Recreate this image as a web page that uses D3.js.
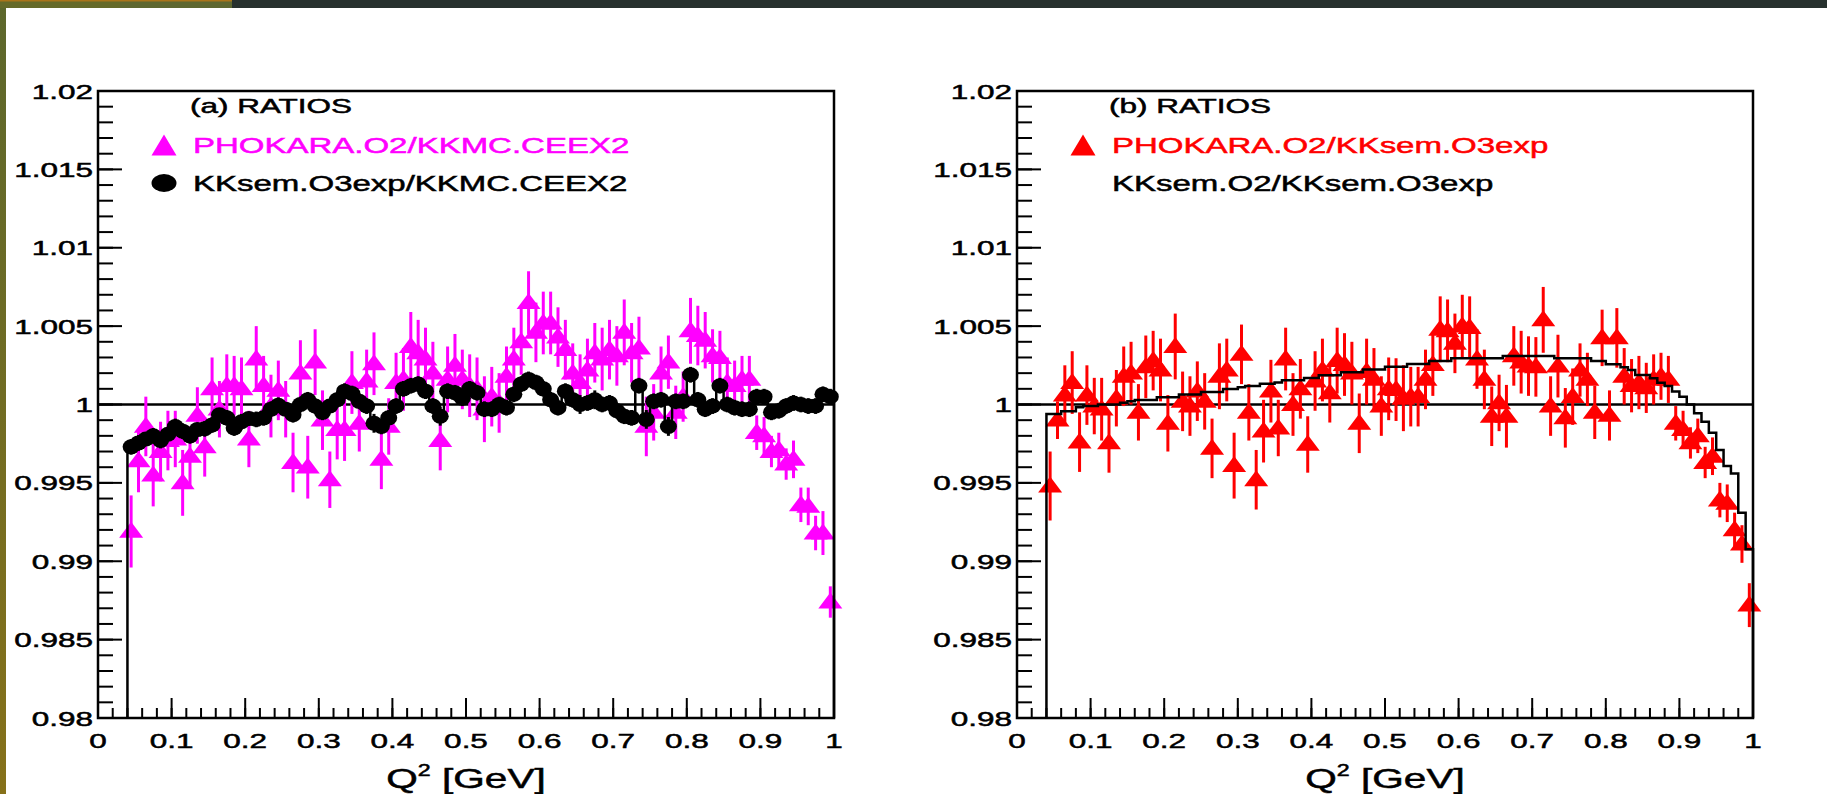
<!DOCTYPE html>
<html>
<head>
<meta charset="utf-8">
<script src="https://d3js.org/d3.v7.min.js"></script>
<style>
  body { margin: 0; background: #fff; }
  svg text { font-family: "Liberation Sans", Arial, Helvetica, sans-serif; }
</style>
</head>
<body>
<div id="chart"></div>
<script>

// Q^2 bin centres, bins 0.01 wide
var q2 = [0.045,0.055,0.065,0.075,0.085,0.095,0.105,0.115,0.125,0.135,
          0.145,0.155,0.165,0.175,0.185,0.195,0.205,0.215,0.225,0.235,
          0.245,0.255,0.265,0.275,0.285,0.295,0.305,0.315,0.325,0.335,
          0.345,0.355,0.365,0.375,0.385,0.395,0.405,0.415,0.425,0.435,
          0.445,0.455,0.465,0.475,0.485,0.495,0.505,0.515,0.525,0.535,
          0.545,0.555,0.565,0.575,0.585,0.595,0.605,0.615,0.625,0.635,
          0.645,0.655,0.665,0.675,0.685,0.695,0.705,0.715,0.725,0.735,
          0.745,0.755,0.765,0.775,0.785,0.795,0.805,0.815,0.825,0.835,
          0.845,0.855,0.865,0.875,0.885,0.895,0.905,0.915,0.925,0.935,
          0.945,0.955,0.965,0.975,0.985,0.995];

// panel (a): PHOKARA.O2 / KKMC.CEEX2
var phokaraCeex = [0.9919,0.9964,0.9986,0.9955,0.9970,0.9977,0.9978,0.9950,0.9967,0.9993,
                   0.9973,1.0010,0.9997,1.0012,1.0012,1.0010,0.9978,1.0029,1.0012,0.9999,
                   1.0009,0.9997,0.9963,1.0020,0.9960,1.0027,0.9990,0.9952,0.9984,0.9984,
                   1.0014,0.9988,1.0015,1.0026,0.9965,0.9986,1.0014,1.0016,1.0037,1.0033,
                   1.0029,1.0020,0.9977,1.0016,1.0025,1.0016,1.0012,1.0010,0.9997,1.0005,
                   1.0001,1.0018,1.0029,1.0040,1.0065,1.0046,1.0052,1.0052,1.0043,1.0035,
                   1.0020,1.0014,1.0022,1.0033,1.0029,1.0035,1.0031,1.0046,1.0033,1.0036,
                   0.9986,0.9995,1.0020,1.0027,0.9995,1.0005,1.0047,1.0044,1.0041,1.0031,
                   1.0030,1.0014,1.0012,1.0016,1.0016,0.9982,0.9980,0.9970,0.9971,0.9962,
                   0.9965,0.9936,0.9935,0.9918,0.9918,0.9874];
var phokaraCeexErr = [0.0023,0.0020,0.0019,0.0020,0.0019,0.0019,0.0018,0.0021,0.0019,0.0018,
                      0.0019,0.0020,0.0018,0.0020,0.0019,0.0020,0.0018,0.0021,0.0019,0.0020,
                      0.0019,0.0018,0.0019,0.0021,0.0020,0.0021,0.0019,0.0018,0.0019,0.0020,
                      0.0020,0.0018,0.0020,0.0020,0.0019,0.0018,0.0019,0.0020,0.0022,0.0021,
                      0.0020,0.0020,0.0019,0.0021,0.0020,0.0019,0.0020,0.0020,0.0021,0.0019,
                      0.0019,0.0019,0.0020,0.0021,0.0020,0.0019,0.0020,0.0020,0.0019,0.0019,
                      0.0019,0.0018,0.0020,0.0019,0.0020,0.0019,0.0019,0.0021,0.0019,0.0020,
                      0.0019,0.0018,0.0017,0.0017,0.0017,0.0016,0.0021,0.0019,0.0018,0.0017,
                      0.0017,0.0016,0.0016,0.0015,0.0015,0.0011,0.0012,0.0010,0.0011,0.0010,
                      0.0012,0.0011,0.0012,0.0011,0.0014,0.0010];

// panel (a): KKsem.O3exp / KKMC.CEEX2
var kksemCeex = [0.9973,0.99755,0.9978,0.9980,0.9977,0.9981,0.9986,0.9983,0.9980,0.9984,
                 0.99845,0.9987,0.99935,0.99915,0.9985,0.9989,0.9991,0.99905,0.99915,0.9997,
                 0.99995,0.9997,0.99935,1.0000,1.0003,0.9999,0.9995,0.9999,1.0003,1.00085,
                 1.0007,1.0002,0.9999,0.9988,0.9986,0.99915,0.9999,1.0010,1.0012,1.0013,
                 1.00085,0.9999,0.99925,1.00085,1.00075,1.0004,1.0010,1.00075,0.9997,0.9997,
                 1.0000,0.9998,1.00065,1.0013,1.0016,1.0014,1.0010,1.0003,0.9998,1.00085,
                 1.0003,1.0000,1.0001,1.0003,1.0000,1.0001,0.9996,0.99925,0.99915,1.0012,
                 0.99905,1.0002,1.0003,0.9986,1.0002,1.0002,1.0019,1.0003,0.9997,0.9999,
                 1.0012,1.0000,0.9998,0.9997,0.9997,1.0005,1.0005,0.9995,0.9996,0.9999,
                 1.0001,1.0000,0.9999,0.9999,1.00065,1.0005];
var kksemCeexErr = [0.0005,0.0005,0.0004,0.0005,0.0005,0.0004,0.0005,0.0005,0.0005,0.0004,
                    0.0005,0.0005,0.0004,0.0005,0.0005,0.0005,0.0004,0.0005,0.0005,0.0005,
                    0.0005,0.0004,0.0005,0.0005,0.0005,0.0005,0.0005,0.0004,0.0005,0.0005,
                    0.0005,0.0005,0.0005,0.0006,0.0005,0.0005,0.0005,0.0005,0.0005,0.0005,
                    0.0005,0.0005,0.0006,0.0005,0.0005,0.0005,0.0005,0.0005,0.0005,0.0005,
                    0.0005,0.0005,0.0005,0.0005,0.0005,0.0005,0.0005,0.0005,0.0005,0.0005,
                    0.0005,0.0006,0.0005,0.0006,0.0005,0.0005,0.0005,0.0005,0.0005,0.0005,
                    0.0006,0.0005,0.0005,0.0006,0.0005,0.0005,0.0005,0.0005,0.0005,0.0005,
                    0.0005,0.0005,0.0005,0.0005,0.0005,0.0005,0.0005,0.0005,0.0005,0.0005,
                    0.0005,0.0005,0.0005,0.0005,0.0005,0.0005];

// panel (b): PHOKARA.O2 / KKsem.O3exp
var phokaraKksem = [0.9948,0.9990,1.0006,1.0014,0.9976,1.0006,0.9999,0.9997,0.99755,1.0004,
                    1.0018,1.0020,0.9995,1.0024,1.0028,1.0022,0.9988,1.0037,1.0002,0.9999,
                    1.00085,1.0002,0.9972,1.0018,1.0022,0.9961,1.0032,0.9995,0.9952,0.9983,
                    1.00085,0.9985,1.0029,1.0000,1.0010,0.99745,1.0015,1.0022,1.00075,1.0028,
                    1.00255,1.0020,0.9988,1.0021,1.0016,0.9999,1.0010,1.00095,1.0004,1.0005,
                    1.0005,1.0016,1.00255,1.0048,1.0047,1.0039,1.0050,1.0049,1.0029,1.0016,
                    0.99925,1.0001,0.99925,1.0031,1.0027,1.00245,1.0024,1.0054,0.9999,1.00245,
                    0.99915,1.0005,1.0022,1.0016,0.9995,1.00425,0.9993,1.00425,1.0018,1.0012,
                    1.0014,1.00106,1.0016,1.0018,1.0016,0.9988,0.9984,0.99755,0.9980,0.9963,
                    0.9967,0.9939,0.9937,0.9920,0.9911,0.9872];
var phokaraKksemErr = [0.0022,0.0012,0.0019,0.0020,0.0019,0.0019,0.0018,0.0020,0.0019,0.0018,
                       0.0019,0.0020,0.0018,0.0020,0.0019,0.0020,0.0018,0.0021,0.0019,0.0019,
                       0.0019,0.0018,0.0019,0.0021,0.0020,0.0021,0.0019,0.0018,0.0019,0.0020,
                       0.0020,0.0018,0.0020,0.0020,0.0019,0.0018,0.0019,0.0020,0.0019,0.0021,
                       0.0020,0.0020,0.0019,0.0021,0.0020,0.0019,0.0020,0.0020,0.0021,0.0019,
                       0.0019,0.0019,0.0020,0.0021,0.0020,0.0019,0.0020,0.0020,0.0019,0.0019,
                       0.0019,0.0018,0.0020,0.0019,0.0020,0.0019,0.0019,0.0021,0.0019,0.0020,
                       0.0019,0.0018,0.0017,0.0017,0.0017,0.0018,0.0016,0.0019,0.0018,0.0017,
                       0.0017,0.0016,0.0016,0.0015,0.0015,0.0011,0.0012,0.0010,0.0011,0.0010,
                       0.0012,0.0011,0.0012,0.0011,0.0012,0.0014];

// panel (b): KKsem.O2 / KKsem.O3exp (histogram)
var kksemO2O3 = [0.99940,0.99940,0.99957,0.99957,0.99982,0.99990,0.99990,1.00000,1.00000,1.00000,
                 1.00011,1.00020,1.00029,1.00029,1.00029,1.00046,1.00046,1.00046,1.00063,1.00063,
                 1.00063,1.00080,1.00080,1.00080,1.00099,1.00099,1.00110,1.00118,1.00118,1.00133,
                 1.00133,1.00140,1.00154,1.00154,1.00154,1.00169,1.00169,1.00186,1.00186,1.00186,
                 1.00205,1.00205,1.00205,1.00224,1.00224,1.00224,1.00241,1.00241,1.00241,1.00258,
                 1.00258,1.00258,1.00277,1.00277,1.00277,1.00295,1.00295,1.00295,1.00295,1.00295,
                 1.00295,1.00295,1.00310,1.00310,1.00310,1.00310,1.00310,1.00310,1.00310,1.00295,
                 1.00295,1.00295,1.00295,1.00295,1.00277,1.00277,1.00256,1.00256,1.00237,1.00220,
                 1.00188,1.00188,1.00167,1.00139,1.00118,1.00083,1.00050,1.00000,0.99944,0.99890,
                 0.99820,0.99710,0.99608,0.99560,0.99310,0.99076];

var yTicks = [0.98, 0.985, 0.99, 0.995, 1, 1.005, 1.01, 1.015, 1.02];
var yTickLabels = ["0.98", "0.985", "0.99", "0.995", "1", "1.005", "1.01", "1.015", "1.02"];
var xTicks = [0, 0.1, 0.2, 0.3, 0.4, 0.5, 0.6, 0.7, 0.8, 0.9, 1];
var xTickLabels = ["0", "0.1", "0.2", "0.3", "0.4", "0.5", "0.6", "0.7", "0.8", "0.9", "1"];

var width = 1827, height = 794;
var plotTop = 91, plotBottom = 718;
var binHalf = 0.005;
var SX = 1.5;   // the picture is stretched sideways, text too

var svg = d3.select("#chart").append("svg")
    .attr("width", width)
    .attr("height", height);

// slide decoration: top band and left strip
var grad = svg.append("defs").append("linearGradient")
    .attr("id", "side").attr("x1", 0).attr("y1", 0).attr("x2", 0).attr("y2", 1);
grad.append("stop").attr("offset", "0%").attr("stop-color", "#5c672c");
grad.append("stop").attr("offset", "100%").attr("stop-color", "#86711a");
svg.append("rect").attr("x", 0).attr("y", 0).attr("width", 6).attr("height", height).attr("fill", "url(#side)");
svg.append("rect").attr("x", 0).attr("y", 0).attr("width", 232).attr("height", 8).attr("fill", "#656a29");
svg.append("rect").attr("x", 120).attr("y", 0).attr("width", 112).attr("height", 8).attr("fill", "#5d6730");
svg.append("rect").attr("x", 232).attr("y", 0).attr("width", width - 232).attr("height", 8).attr("fill", "#27312e");
svg.append("rect").attr("x", 0).attr("y", 0).attr("width", 232).attr("height", 1.5).attr("fill", "#a8741a");

function label(g, x, y, str, size, anchor, color, sx) {
  return g.append("text")
      .attr("transform", "translate(" + x + "," + y + ") scale(" + (sx || SX) + ",1)")
      .attr("text-anchor", anchor || "start")
      .attr("font-size", size)
      .attr("fill", color || "#000")
      .attr("stroke", color || "#000")
      .attr("stroke-width", 0.5)
      .text(str);
}

function triPath(w, h) {
  return "M0," + (-h * 0.6) + "L" + (w / 2) + "," + (h * 0.4) + "L" + (-w / 2) + "," + (h * 0.4) + "Z";
}

function drawPoints(g, x, y, vals, errs, color, shape) {
  var data = vals.map(function(v, i) { return {q: q2[i], v: v, e: errs[i]}; });
  var s = g.append("g");
  s.selectAll("line.ey").data(data).enter().append("line")
      .attr("x1", function(d) { return x(d.q); })
      .attr("x2", function(d) { return x(d.q); })
      .attr("y1", function(d) { return y(d.v - d.e); })
      .attr("y2", function(d) { return y(d.v + d.e); })
      .attr("stroke", color).attr("stroke-width", 3);
  s.selectAll("line.ex").data(data).enter().append("line")
      .attr("x1", function(d) { return x(d.q - binHalf); })
      .attr("x2", function(d) { return x(d.q + binHalf); })
      .attr("y1", function(d) { return y(d.v); })
      .attr("y2", function(d) { return y(d.v); })
      .attr("stroke", color).attr("stroke-width", 3);
  if (shape == "tri") {
    s.selectAll("path.m").data(data).enter().append("path")
        .attr("d", triPath(24, 16))
        .attr("transform", function(d) { return "translate(" + x(d.q) + "," + y(d.v) + ")"; })
        .attr("fill", color);
  } else {
    s.selectAll("ellipse.m").data(data).enter().append("ellipse")
        .attr("cx", function(d) { return x(d.q); })
        .attr("cy", function(d) { return y(d.v); })
        .attr("rx", 8.5).attr("ry", 7.5)
        .attr("fill", color);
  }
}

function histPath(x, y, vals) {
  var d = "M" + x(q2[0] - binHalf) + "," + y(0.98);
  vals.forEach(function(v, i) {
    d += "L" + x(q2[i] - binHalf) + "," + y(v) + "L" + x(q2[i] + binHalf) + "," + y(v);
  });
  return d + "L" + x(q2[q2.length - 1] + binHalf) + "," + y(0.98);
}

function drawPanel(p) {
  var x = d3.scaleLinear().domain([0, 1]).range([p.left, p.right]);
  var y = d3.scaleLinear().domain([0.98, 1.02]).range([plotBottom, plotTop]);
  var g = svg.append("g");

  // line at ratio 1
  g.append("line")
      .attr("x1", x(0)).attr("x2", x(1))
      .attr("y1", y(1)).attr("y2", y(1))
      .attr("stroke", "#000").attr("stroke-width", 2.5);

  // ticks, drawn inside the frame
  g.selectAll("line.ymin").data(y.ticks(40)).enter().append("line")
      .attr("x1", x(0)).attr("x2", x(0) + 15)
      .attr("y1", y).attr("y2", y)
      .attr("stroke", "#000").attr("stroke-width", 2);
  g.selectAll("line.ymaj").data(yTicks).enter().append("line")
      .attr("x1", x(0)).attr("x2", x(0) + 24)
      .attr("y1", y).attr("y2", y)
      .attr("stroke", "#000").attr("stroke-width", 2);
  g.selectAll("line.xmin").data(x.ticks(50)).enter().append("line")
      .attr("x1", x).attr("x2", x)
      .attr("y1", plotBottom).attr("y2", plotBottom - 10)
      .attr("stroke", "#000").attr("stroke-width", 2);
  g.selectAll("line.xmaj").data(xTicks).enter().append("line")
      .attr("x1", x).attr("x2", x)
      .attr("y1", plotBottom).attr("y2", plotBottom - 20)
      .attr("stroke", "#000").attr("stroke-width", 2);

  yTicks.forEach(function(t, i) { label(g, x(0) - 5, y(t) + 7.5, yTickLabels[i], 21, "end"); });
  xTicks.forEach(function(t, i) { label(g, x(t), plotBottom + 30, xTickLabels[i], 21, "middle"); });

  var title = g.append("text")
      .attr("transform", "translate(" + x(0.5) + "," + (plotBottom + 70) + ") scale(1.45,1)")
      .attr("text-anchor", "middle")
      .attr("font-size", 28)
      .attr("fill", "#000")
      .attr("stroke", "#000")
      .attr("stroke-width", 0.5);
  title.append("tspan").text("Q");
  title.append("tspan").attr("font-size", 16).attr("dy", -12).text("2");
  title.append("tspan").attr("dy", 12).text(" [GeV]");

  // data
  p.series(g, x, y);

  // frame
  g.append("rect")
      .attr("x", x(0)).attr("y", plotTop)
      .attr("width", x(1) - x(0)).attr("height", plotBottom - plotTop)
      .attr("fill", "none").attr("stroke", "#000").attr("stroke-width", 2.5);

  // legend
  label(g, x(0) + 92, 113, p.tag, 21, "start");
  p.legend.forEach(function(e, i) {
    var cy = 145 + i * 38;
    if (e.shape == "tri") {
      g.append("path").attr("d", triPath(25, 21))
          .attr("transform", "translate(" + (x(0) + 66) + "," + (cy + 2) + ")")
          .attr("fill", e.color);
    } else if (e.shape == "dot") {
      g.append("ellipse").attr("cx", x(0) + 66).attr("cy", cy)
          .attr("rx", 12.5).attr("ry", 9).attr("fill", e.color);
    }
    label(g, x(0) + 95, cy + 8, e.text, 22, "start", e.color, 1.5);
  });
}

drawPanel({
  left: 98, right: 834,
  tag: "(a) RATIOS",
  legend: [
    {text: "PHOKARA.O2/KKMC.CEEX2", color: "#ff00ff", shape: "tri"},
    {text: "KKsem.O3exp/KKMC.CEEX2", color: "#000", shape: "dot"}
  ],
  series: function(g, x, y) {
    drawPoints(g, x, y, phokaraCeex, phokaraCeexErr, "#ff00ff", "tri");
    g.append("path").attr("d", histPath(x, y, kksemCeex))
        .attr("fill", "none").attr("stroke", "#000").attr("stroke-width", 2.5);
    drawPoints(g, x, y, kksemCeex, kksemCeexErr, "#000", "dot");
  }
});

drawPanel({
  left: 1017, right: 1753,
  tag: "(b) RATIOS",
  legend: [
    {text: "PHOKARA.O2/KKsem.O3exp", color: "#ff0000", shape: "tri"},
    {text: "KKsem.O2/KKsem.O3exp", color: "#000", shape: "none"}
  ],
  series: function(g, x, y) {
    drawPoints(g, x, y, phokaraKksem, phokaraKksemErr, "#ff0000", "tri");
    g.append("path").attr("d", histPath(x, y, kksemO2O3))
        .attr("fill", "none").attr("stroke", "#000").attr("stroke-width", 2.5);
  }
});

</script>
</body>
</html>
